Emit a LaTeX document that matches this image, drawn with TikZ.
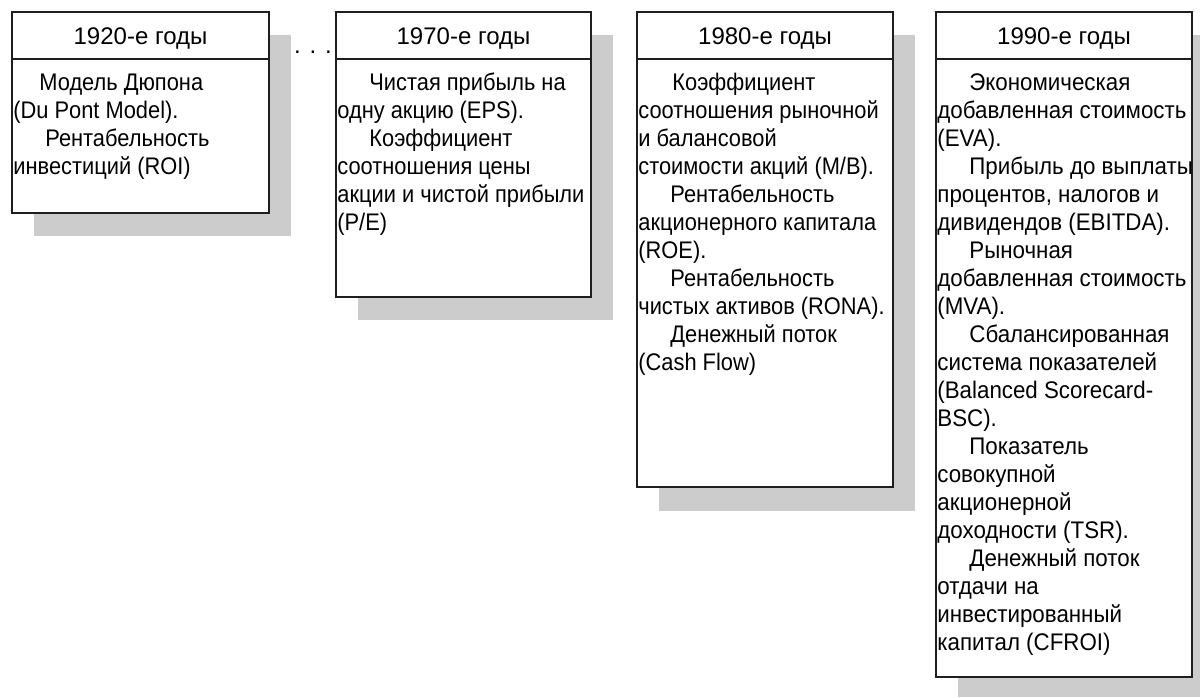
\documentclass[tikz,border=0pt]{standalone}
\usepackage{fontspec}
\setmainfont[FakeStretch=0.91]{Liberation Sans}
\newfontfamily\widefont[FakeStretch=0.93]{Liberation Sans}
\newfontfamily\headfont{Liberation Sans}
\definecolor{shadowgray}{HTML}{CCCCCC}
\definecolor{boxline}{HTML}{1E1E1E}
\newcommand{\ind}{\hspace*{16pt}}
\newcommand{\bodytext}[1]{\parbox[t]{200pt}{\raggedright\parindent=0pt #1}}
\begin{document}
\begin{tikzpicture}[x=0.5pt,y=-0.5pt,
  shadowrect/.style={fill=shadowgray, draw=none},
  panel/.style={draw=boxline, line width=0.7pt, fill=white},
  sepline/.style={draw=boxline, line width=0.7pt},
  headtext/.style={anchor=base, inner sep=0pt, font=\headfont\fontsize{12}{14}\selectfont},
  bodynode/.style={anchor=base west, inner sep=0pt, font=\fontsize{12}{14}\selectfont},
  widebody/.style={bodynode, font=\widefont\fontsize{12}{14}\selectfont},
  dotsnode/.style={anchor=base, inner sep=0pt, font=\headfont\fontsize{12}{14}\selectfont}]
\useasboundingbox (0,0) rectangle (1200,697);

% shadows
\fill[shadowrect] (34,35) rectangle (291,236);
\fill[shadowrect] (358,35) rectangle (613,320);
\fill[shadowrect] (659,35) rectangle (915,511);
\fill[shadowrect] (958,35) rectangle (1200,697);

% panels
\draw[panel] (12,12) rectangle (269,213);
\draw[sepline] (12,59) -- (269,59);
\draw[panel] (336,12) rectangle (591,297);
\draw[sepline] (336,59) -- (591,59);
\draw[panel] (637,12) rectangle (893,487);
\draw[sepline] (637,59) -- (893,59);
\draw[panel] (936,12) rectangle (1192,677);
\draw[sepline] (936,59) -- (1192,59);

% headers
\node[headtext] (h1) at (140.5,44) {1920-е годы};
\node[headtext] (h2) at (463.5,44) {1970-е годы};
\node[headtext] (h3) at (765,44) {1980-е годы};
\node[headtext] (h4) at (1064,44) {1990-е годы};

% ellipsis
\node[dotsnode] (dots) at (313,53) {. . .};

% bodies
\node[bodynode] (t1) at (13,90) {\bodytext{%
\hspace*{13pt}Модель Дюпона\\
(Du Pont Model).\\
\ind Рентабельность\\
инвестиций (ROI)}};

\node[bodynode] (t2) at (337,90) {\bodytext{%
\ind Чистая прибыль на\\
одну акцию (EPS).\\
\ind Коэффициент\\
соотношения цены\\
акции и чистой прибыли\\
(P/E)}};

\node[bodynode] (t3) at (638,90) {\bodytext{%
\hspace*{17pt}Коэффициент\\
соотношения рыночной\\
и балансовой\\
стоимости акций (М/В).\\
\ind Рентабельность\\
акционерного капитала\\
(ROE).\\
\ind Рентабельность\\
чистых активов (RONA).\\
\ind Денежный поток\\
(Cash Flow)}};

\node[widebody] (t4) at (937,90) {\bodytext{%
\ind Экономическая\\
добавленная стоимость\\
(EVA).\\
\ind Прибыль до выплаты\\
процентов, налогов и\\
дивидендов (EBITDA).\\
\ind Рыночная\\
добавленная стоимость\\
(MVA).\\
\ind Сбалансированная\\
система показателей\\
(Balanced Scorecard-\\
BSC).\\
\ind Показатель\\
совокупной\\
акционерной\\
доходности (TSR).\\
\ind Денежный поток\\
отдачи на\\
инвестированный\\
капитал (CFROI)}};
\end{tikzpicture}
\end{document}
